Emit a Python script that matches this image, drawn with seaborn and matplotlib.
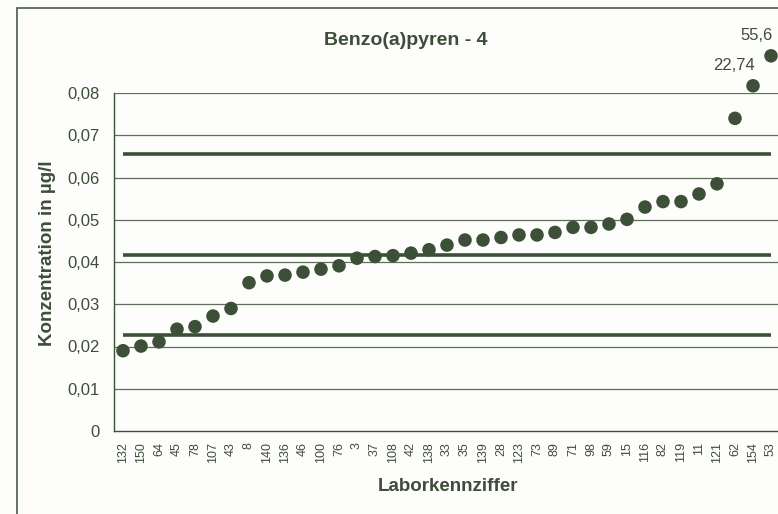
import matplotlib
matplotlib.use("Agg")
import matplotlib.pyplot as plt
from matplotlib.patches import Rectangle
from matplotlib.ticker import FuncFormatter, MultipleLocator
import seaborn as sns
import pandas as pd

# Laboratory codes, sorted by reported concentration
labs = ["132", "150", "64", "45", "78", "107", "43", "8", "140", "136", "46", "100",
        "76", "3", "37", "108", "42", "138", "33", "35", "139", "28", "123", "73",
        "89", "71", "98", "59", "15", "116", "82", "119", "11", "121", "62", "154", "53"]

# Reported concentrations in µg/l
values = [0.0190, 0.0201, 0.0211, 0.0241, 0.0247, 0.0272, 0.0290, 0.0351, 0.0367,
          0.0369, 0.0376, 0.0383, 0.0391, 0.0409, 0.0413, 0.0415, 0.0421, 0.0429,
          0.0440, 0.0452, 0.0452, 0.0458, 0.0464, 0.0464, 0.0470, 0.0482, 0.0482,
          0.0490, 0.0501, 0.0530, 0.0543, 0.0543, 0.0561, 0.0585, 0.0740, 22.74, 55.6]

# Off-scale results are drawn just above the axis top, at these heights
offscale_shown_at = {"154": 0.0817, "53": 0.0888}

# Tolerance limits and assigned value
upper_limit = 0.0656
assigned_value = 0.0417
lower_limit = 0.0227

title = "Benzo(a)pyren - 4"
y_label = "Konzentration in µg/l"
x_label = "Laborkennziffer"
y_max = 0.08

ink = "#3c5038"
text_col = "#3e4d3a"
grid_col = "#5f6e5a"
bg = "#fdfdfb"

sns.set_style("white")
plt.rcParams["font.family"] = ["Liberation Sans", "DejaVu Sans"]

df = pd.DataFrame({"lab": labs, "value": values})
df["pos"] = range(len(df))
df["shown"] = [offscale_shown_at.get(l, v) for l, v in zip(labs, values)]
df["offscale"] = df["value"] > y_max

W, H = 778, 514
fig = plt.figure(figsize=(W / 100, H / 100), dpi=100, facecolor=bg)
ax = fig.add_axes([114 / W, 1 - 431 / H, (780 - 114) / W, (431 - 93) / H])
ax.set_facecolor(bg)

# Frame around the whole chart
fig.patches.append(Rectangle((17 / W, -0.05), 1.2, 1 - 8 / H + 0.05,
                             transform=fig.transFigure, fill=False,
                             edgecolor="#4a5a46", linewidth=1.2, zorder=0))

# Horizontal gridlines
for g in [i * 0.01 for i in range(1, 9)]:
    ax.axhline(g, color=grid_col, linewidth=0.9, zorder=1)

# Limit lines spanning the laboratories
n = len(df)
for lvl in (upper_limit, assigned_value, lower_limit):
    ax.plot([0, n - 1], [lvl, lvl], color=ink, linewidth=2.6, solid_capstyle="butt", zorder=2)

sns.scatterplot(data=df, x="pos", y="shown", ax=ax, color=ink, s=95,
                edgecolor="none", zorder=3, legend=False, clip_on=False)

# Value labels for off-scale results
for _, r in df[df["offscale"]].iterrows():
    txt = f"{r['value']:g}".replace(".", ",")
    ax.annotate(txt, (r["pos"], r["shown"]), xytext=(1, 9), textcoords="offset points",
                ha="right", va="bottom", fontsize=12, color=text_col, annotation_clip=False)

ax.set_xlim(-0.5, n - 0.5)
ax.set_ylim(0, y_max)
ax.set_xlabel("")
ax.set_ylabel("")
ax.yaxis.set_major_locator(MultipleLocator(0.01))
ax.yaxis.set_major_formatter(FuncFormatter(lambda v, _: "0" if abs(v) < 1e-9 else f"{v:.2f}".replace(".", ",")))
ax.set_xticks(df["pos"])
ax.set_xticklabels(labs, rotation=90, fontsize=9, color=text_col)
ax.set_xticks([i - 0.5 for i in range(n + 1)], minor=True)
ax.tick_params(axis="x", which="major", length=0, pad=8)
ax.tick_params(axis="x", which="minor", length=3.6, color=ink, direction="out")
ax.tick_params(axis="y", length=6, color=ink, direction="out", labelsize=12, labelcolor=text_col, pad=4)

for side in ("top", "right"):
    ax.spines[side].set_visible(False)
for side in ("left", "bottom"):
    ax.spines[side].set_color(ink)
    ax.spines[side].set_linewidth(1.0)

fig.text(406 / W, 1 - 45 / H, title, ha="center", va="baseline",
         fontsize=14, fontweight="bold", color=text_col)
fig.text(448 / W, 1 - 491 / H, x_label, ha="center", va="baseline",
         fontsize=13.5, fontweight="bold", color=text_col)
fig.text(48 / W, 1 - 253 / H, y_label, ha="center", va="center", rotation=90,
         fontsize=13.5, fontweight="bold", color=text_col)

fig.savefig("out.png", dpi=100, facecolor=bg)
